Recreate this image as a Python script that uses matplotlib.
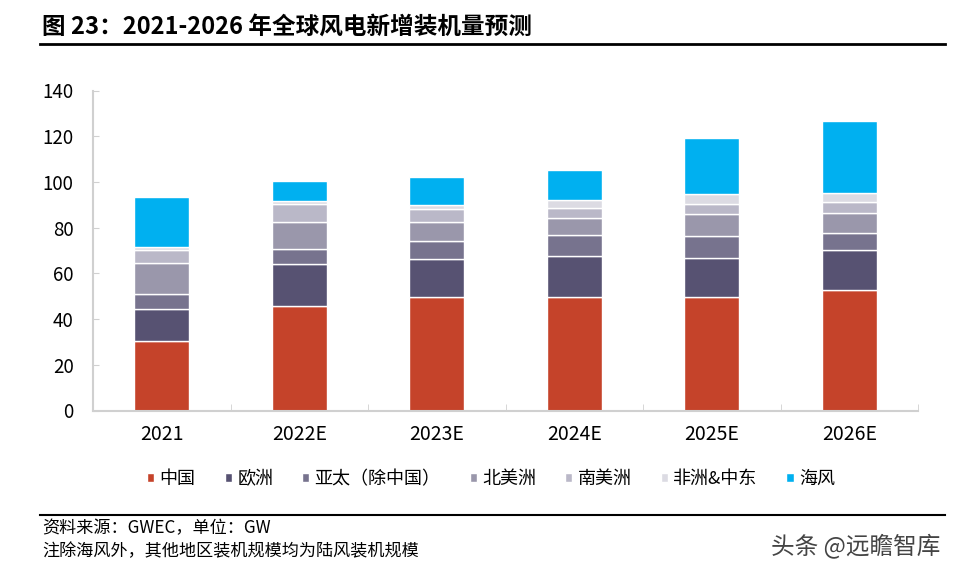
import numpy as np
import matplotlib.pyplot as plt

plt.rcParams['font.family'] = ['Noto Sans CJK SC', 'DejaVu Sans']

years = ['2021', '2022E', '2023E', '2024E', '2025E', '2026E']
series_names = ['中国', '欧洲', '亚太（除中国）', '北美洲', '南美洲', '非洲&中东', '海风']
china = [30.3, 45.6, 49.8, 49.8, 49.7, 52.7]
europe = [14.0, 18.4, 16.5, 17.8, 17.0, 17.5]
apac = [6.7, 6.5, 7.9, 9.2, 9.5, 7.5]
north_america = [13.4, 12.0, 8.3, 7.6, 9.8, 8.6]
south_america = [5.7, 8.0, 5.7, 4.3, 4.5, 4.9]
africa_me = [1.6, 1.0, 1.6, 3.4, 4.2, 4.0]
offshore = [21.6, 8.9, 12.4, 13.1, 24.4, 31.5]
colors = ['#C5432A', '#575272', '#77738E', '#9A97AB', '#BAB8C8', '#DCDBE3', '#00B0F0']

data = [china, europe, apac, north_america, south_america, africa_me, offshore]

fig = plt.figure(figsize=(9.59, 5.74), dpi=100)
ax = fig.add_axes([93 / 959, 1 - 410.5 / 574, 825 / 959, 320 / 574])

x = np.arange(len(years))
bottom = np.zeros(len(years))
handles = []
for vals, name, c in zip(data, series_names, colors):
    b = ax.bar(x, vals, 0.4, bottom=bottom, color=c, edgecolor='white',
               linewidth=1, label=name)
    handles.append(b)
    bottom += np.array(vals)

ax.set_xlim(-0.5, len(years) - 0.5)
ax.set_ylim(0, 140)
ax.set_yticks(range(0, 141, 20))
ax.set_xticks(x)
ax.set_xticklabels(years)
ax.set_xticks(np.arange(-0.5, len(years)), minor=True)
ax.tick_params(axis='x', which='major', length=0, pad=10, labelsize=14)
ax.tick_params(axis='x', which='minor', length=5, direction='in', color='#D0D0D0')
ax.tick_params(axis='y', length=4, direction='in', color='#D0D0D0', pad=14, labelsize=13.5)
for s in ['top', 'right']:
    ax.spines[s].set_visible(False)
for s in ['left', 'bottom']:
    ax.spines[s].set_color('#D0D0D0')
    ax.spines[s].set_linewidth(1.5)

fig.legend(handles=handles, loc='center', bbox_to_anchor=(491 / 959, 1 - 479 / 574),
           ncol=7, frameon=False, fontsize=13, handlelength=0.4, handleheight=0.4,
           handletextpad=0.3, columnspacing=1.6)

fig.text(42 / 959, 1 - 27 / 574, '图 23：2021-2026 年全球风电新增装机量预测',
         fontsize=17, fontweight='bold', va='center', ha='left')
fig.add_artist(plt.Line2D([40 / 959, 945 / 959], [1 - 44 / 574, 1 - 44 / 574],
                          color='black', linewidth=2))
fig.add_artist(plt.Line2D([40 / 959, 945 / 959], [1 - 515 / 574, 1 - 515 / 574],
                          color='black', linewidth=1.5))
fig.text(42 / 959, 1 - 528 / 574, '资料来源：GWEC，单位：GW', fontsize=12.3, va='center')
fig.text(42 / 959, 1 - 551 / 574, '注除海风外，其他地区装机规模均为陆风装机规模', fontsize=12.3, va='center')
fig.text(940 / 959, 1 - 546 / 574, '头条 @远瞻智库', fontsize=17, va='center', ha='right',
         color='#444444', fontweight='light')

fig.savefig('out.png', dpi=100)
